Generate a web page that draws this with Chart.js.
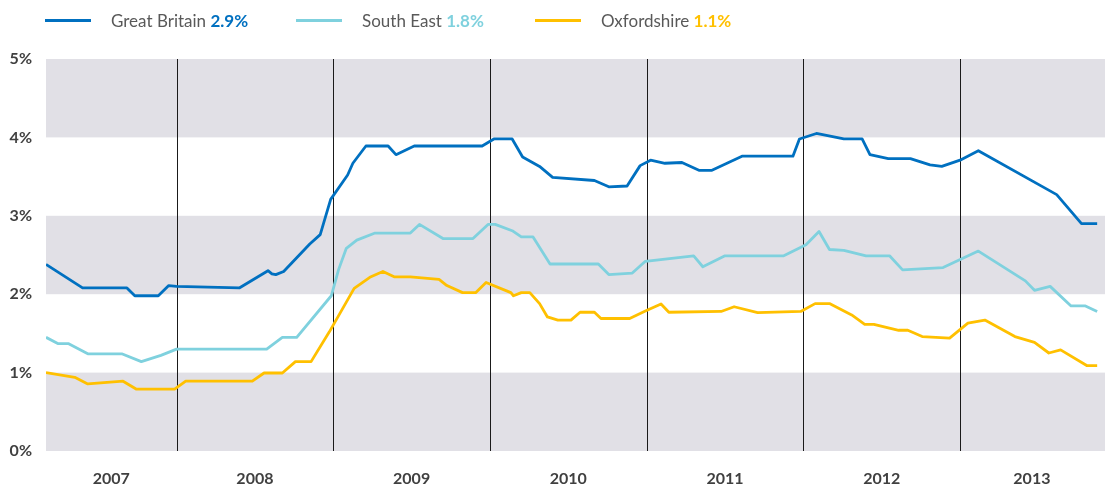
<!DOCTYPE html>
<html>
<head>
<meta charset="utf-8">
<script src="https://cdn.jsdelivr.net/npm/chart.js@4/dist/chart.umd.min.js"></script>
<style>
  body { margin: 0; background: #fff; }
  #wrap { position: relative; width: 1109px; height: 488px; }
  #legend { position: absolute; top: 0; left: 0; width: 1109px; height: 40px; font-family: Lato, "Open Sans", sans-serif; font-size: 17px; color: #595959; }
  .item { position: absolute; top: 9px; display: flex; align-items: center; height: 22px; white-space: nowrap; }
  .swatch { width: 46px; height: 3px; margin-right: 20px; }
  .item b { font-weight: 700; }
</style>
</head>
<body>
<div id="wrap">
  <canvas id="grafico" width="1109" height="488"></canvas>
  <div id="legend"></div>
</div>
<script>
// meses desde enero 2007 (0 = ene 2007)
const gbMonths = [2, 4.8, 8.2, 8.8, 10.6, 11.4, 12, 16.8, 19.0, 19.3, 19.6, 20.2, 22.2, 23.0, 23.8, 25.1, 25.5, 26.5, 28.2, 28.8, 30.2, 35.4, 36.3, 37.7, 38.5, 39.8, 40.8, 44.0, 45.1, 46.5, 47.5, 48.3, 49.4, 50.7, 52.0, 53.0, 55.3, 59.2, 59.7, 61.0, 63.1, 64.5, 65.1, 66.5, 68.2, 69.7, 70.6, 72, 73.4, 79.4, 81.3, 82.5];
const gbRate = [2.38, 2.08, 2.08, 1.98, 1.98, 2.11, 2.10, 2.08, 2.30, 2.26, 2.25, 2.29, 2.64, 2.76, 3.21, 3.52, 3.67, 3.89, 3.89, 3.78, 3.89, 3.89, 3.98, 3.98, 3.75, 3.63, 3.49, 3.45, 3.37, 3.38, 3.64, 3.71, 3.67, 3.68, 3.58, 3.58, 3.76, 3.76, 3.98, 4.05, 3.98, 3.98, 3.78, 3.73, 3.73, 3.65, 3.63, 3.71, 3.83, 3.27, 2.90, 2.90];

const seMonths = [2, 2.9, 3.7, 5.2, 7.8, 9.3, 10.8, 12, 18.9, 20.1, 21.2, 23.85, 24.4, 25.0, 25.8, 27.2, 29.9, 30.6, 32.4, 34.7, 35.85, 36.4, 37.7, 38.4, 39.3, 40.6, 44.3, 45.1, 46.9, 47.9, 51.6, 52.3, 54.0, 58.5, 60.2, 61.2, 62.0, 63.1, 64.8, 66.6, 67.6, 70.7, 73.4, 77.0, 77.7, 78.9, 80.5, 81.6, 82.5];
const seRate = [1.45, 1.37, 1.37, 1.24, 1.24, 1.14, 1.22, 1.30, 1.30, 1.45, 1.45, 1.98, 2.31, 2.585, 2.69, 2.78, 2.78, 2.89, 2.71, 2.71, 2.89, 2.89, 2.81, 2.73, 2.73, 2.385, 2.385, 2.25, 2.27, 2.42, 2.49, 2.35, 2.49, 2.49, 2.63, 2.80, 2.57, 2.56, 2.49, 2.49, 2.31, 2.34, 2.55, 2.17, 2.05, 2.10, 1.85, 1.85, 1.78];

const oxMonths = [2, 4.2, 5.2, 7.9, 8.9, 11.85, 12.7, 17.8, 18.7, 20.1, 21.1, 22.3, 23.7, 25.6, 26.8, 27.8, 28.7, 29.9, 32.1, 32.7, 33.9, 34.9, 35.7, 37.6, 37.8, 38.4, 39.05, 39.8, 40.4, 41.2, 42.2, 42.9, 44.0, 44.5, 46.7, 47.9, 49.1, 49.7, 53.7, 54.7, 56.5, 59.8, 60.9, 62.0, 63.7, 64.7, 65.4, 67.3, 68.0, 69.1, 71.2, 72.6, 73.9, 76.2, 77.7, 78.8, 79.7, 81.7, 82.5];
const oxRate = [1.00, 0.94, 0.855, 0.89, 0.79, 0.79, 0.89, 0.89, 0.995, 0.995, 1.14, 1.14, 1.52, 2.075, 2.215, 2.29, 2.22, 2.22, 2.19, 2.11, 2.02, 2.02, 2.15, 2.02, 1.98, 2.02, 2.02, 1.88, 1.71, 1.67, 1.67, 1.77, 1.77, 1.69, 1.69, 1.785, 1.875, 1.77, 1.78, 1.84, 1.765, 1.78, 1.88, 1.88, 1.735, 1.615, 1.615, 1.54, 1.54, 1.46, 1.44, 1.63, 1.67, 1.46, 1.385, 1.25, 1.29, 1.09, 1.09];

const yearLabels = ['2007', '2008', '2009', '2010', '2011', '2012', '2013'];
const yearLabelPos = [7, 18, 30, 42, 54, 66, 77.5];
const yearBreaks = [12, 24, 36, 48, 60, 72];
const yTicks = [0, 1, 2, 3, 4, 5];
const bandRanges = [[0, 1], [2, 3], [4, 5]];

const seriesNames = ['Great Britain', 'South East', 'Oxfordshire'];
const latestValues = ['2.9%', '1.8%', '1.1%'];
const colores = ['#0070C0', '#7FD1DE', '#FFC000'];

const toPoints = (xs, ys) => xs.map((x, i) => ({ x: x, y: ys[i] }));

// leyenda
const legendLeft = [45, 296, 535];
const legend = document.getElementById('legend');
seriesNames.forEach((nombre, i) => {
    const item = document.createElement('div');
    item.className = 'item';
    item.style.left = legendLeft[i] + 'px';
    item.innerHTML = '<span class="swatch" style="background:' + colores[i] + '"></span>' +
        '<span>' + nombre + ' <b style="color:' + colores[i] + '">' + latestValues[i] + '</b></span>';
    legend.appendChild(item);
});

// bandas grises y lineas verticales por año
const fondoPlugin = {
    id: 'fondo',
    beforeDatasetsDraw(chart) {
        const { ctx, chartArea, scales } = chart;
        ctx.save();
        ctx.fillStyle = '#E1E0E6';
        bandRanges.forEach(([a, b]) => {
            const y1 = scales.y.getPixelForValue(b);
            const y2 = scales.y.getPixelForValue(a);
            ctx.fillRect(chartArea.left, y1, chartArea.right - chartArea.left, y2 - y1);
        });
        ctx.strokeStyle = '#1a1a1a';
        ctx.lineWidth = 1;
        yearBreaks.forEach(m => {
            const x = Math.round(scales.x.getPixelForValue(m)) + 0.5;
            ctx.beginPath();
            ctx.moveTo(x, chartArea.top);
            ctx.lineTo(x, chartArea.bottom);
            ctx.stroke();
        });
        ctx.restore();
    }
};

const tickFont = { family: 'Lato, "Open Sans", sans-serif', size: 16, weight: 'bold' };

new Chart(document.getElementById('grafico').getContext('2d'), {
    type: 'line',
    data: {
        datasets: [
            { label: seriesNames[0], data: toPoints(gbMonths, gbRate), borderColor: colores[0] },
            { label: seriesNames[1], data: toPoints(seMonths, seRate), borderColor: colores[1] },
            { label: seriesNames[2], data: toPoints(oxMonths, oxRate), borderColor: colores[2] }
        ].map(d => Object.assign(d, { borderWidth: 2.8, pointRadius: 0, tension: 0, borderJoinStyle: 'round', fill: false }))
    },
    options: {
        responsive: false,
        animation: false,
        layout: { padding: { top: 59, right: 4, left: 0, bottom: 0 } },
        plugins: { legend: { display: false }, tooltip: { enabled: false } },
        scales: {
            x: {
                type: 'linear',
                min: 2,
                max: 83.1,
                grid: { display: false },
                border: { display: false },
                afterBuildTicks: (scale) => { scale.ticks = yearLabelPos.map(v => ({ value: v })); },
                afterFit: (scale) => { scale.height = 37; },
                ticks: {
                    autoSkip: false,
                    maxRotation: 0,
                    padding: 10,
                    color: '#404040',
                    font: tickFont,
                    callback: (v) => yearLabels[yearLabelPos.indexOf(v)]
                }
            },
            y: {
                min: 0,
                max: 5,
                grid: { display: false, drawTicks: false },
                border: { display: false },
                afterBuildTicks: (scale) => { scale.ticks = yTicks.map(v => ({ value: v })); },
                afterFit: (scale) => { scale.width = 46; },
                ticks: {
                    padding: 14,
                    color: '#404040',
                    font: tickFont,
                    callback: (v) => v + '%'
                }
            }
        }
    },
    plugins: [fondoPlugin]
});
</script>
</body>
</html>
